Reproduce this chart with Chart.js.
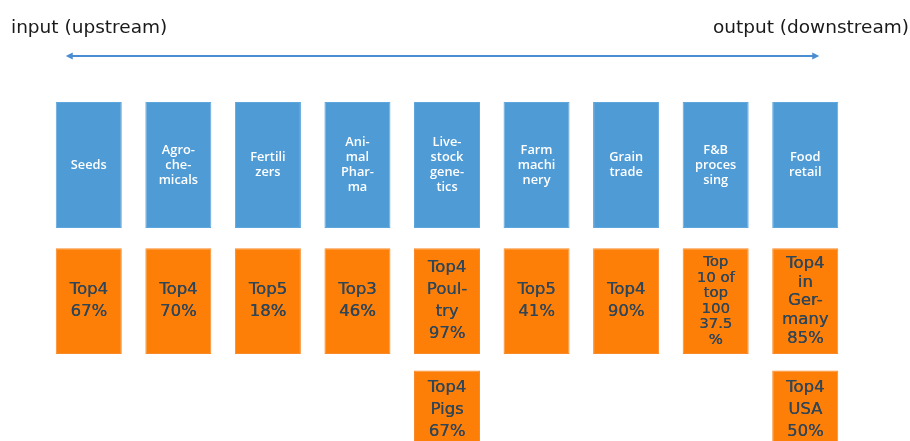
<!DOCTYPE html>
<html>
<head>
<meta charset="utf-8">
<script src="https://cdn.jsdelivr.net/npm/chart.js@4"></script>
<style>
  html, body { margin: 0; padding: 0; background: #ffffff; }
  #wrap { width: 910px; height: 441px; position: relative; }
  canvas { display: block; }
</style>
</head>
<body>
<div id="wrap"><canvas id="c" width="910" height="441"></canvas></div>
<script>
// ---- data ----
const stages = ["Seeds", "Agrochemicals", "Fertilizers", "Animal Pharma", "Livestock genetics",
                "Farm machinery", "Grain trade", "F&B processing", "Food retail"];
const stageLabels = [
  ["Seeds"],
  ["Agro-", "che-", "micals"],
  ["Fertili", "zers"],
  ["Ani-", "mal", "Phar-", "ma"],
  ["Live-", "stock", "gene-", "tics"],
  ["Farm", "machi", "nery"],
  ["Grain", "trade"],
  ["F&B", "proces", "sing"],
  ["Food", "retail"]
];
const concentration = [
  ["Top4", "67%"],
  ["Top4", "70%"],
  ["Top5", "18%"],
  ["Top3", "46%"],
  ["Top4", "Poul-", "try", "97%"],
  ["Top5", "41%"],
  ["Top4", "90%"],
  ["Top", "10 of", "top", "100", "37.5", "%"],
  ["Top4", "in", "Ger-", "many", "85%"]
];
const concentration2 = [
  null, null, null, null,
  ["Top4", "Pigs", "67%"],
  null, null, null,
  ["Top4", "USA", "50%"]
];
const leftLabel = "input (upstream)";
const rightLabel = "output (downstream)";

// row bands on an abstract "row" axis (0 = top of stage row)
const stageBand = [0, 1];
const concBand = [1.16, 2.0];
const conc2Band = [2.13, 3.2];

const BLUE = "#4e9bd6";
const ORANGE = "#fd7f07";
const TEXT_DARK = "#2f4658";

const textPlugin = {
  id: "boxText",
  afterDatasetsDraw(chart) {
    const ctx = chart.ctx;
    const area = chart.chartArea;
    chart.data.datasets.forEach((ds, di) => {
      const meta = chart.getDatasetMeta(di);
      meta.data.forEach((el, i) => {
        const lines = ds.texts[i];
        if (!lines) return;
        const top = Math.min(el.y, el.base);
        const bottom = Math.max(el.y, el.base);
        const h = bottom - top;
        ctx.save();
        ctx.textAlign = "center";
        ctx.textBaseline = "middle";
        let lh, fs;
        if (ds.kind === "stage") {
          lh = 15; fs = 12.8;
          ctx.font = "600 " + fs + "px 'Open Sans', sans-serif";
          ctx.fillStyle = "#ffffff";
        } else {
          lh = Math.min(22, (h - 12) / lines.length);
          fs = Math.min(16.5, lh * 0.95);
          ctx.font = fs + "px 'DejaVu Sans', sans-serif";
          ctx.fillStyle = TEXT_DARK;
        }
        let startY;
        if (bottom > area.bottom + 1) {
          startY = top + 17;
        } else {
          startY = (top + bottom) / 2 - (lines.length - 1) * lh / 2;
        }
        lines.forEach((t, k) => {
          ctx.fillText(t, el.x, startY + k * lh);
          if (ds.kind !== "stage") {
            ctx.fillText(t, el.x + 0.35, startY + k * lh);
          }
        });
        ctx.restore();
      });
    });
  },
  afterDraw(chart) {
    const ctx = chart.ctx;
    const y = chart.scales.y;
    const first = chart.getDatasetMeta(0).data[0];
    const last = chart.getDatasetMeta(0).data[stages.length - 1];
    const x0 = first.x - first.width / 2 + 10;
    const x1 = last.x + last.width / 2 - 19;
    const ay = y.getPixelForValue(-0.365);
    ctx.save();
    ctx.strokeStyle = "#4a8dd2";
    ctx.fillStyle = "#4a8dd2";
    ctx.lineWidth = 2;
    ctx.beginPath();
    ctx.moveTo(x0 + 5, ay);
    ctx.lineTo(x1 - 5, ay);
    ctx.stroke();
    ctx.beginPath();
    ctx.moveTo(x0, ay); ctx.lineTo(x0 + 7, ay - 3.5); ctx.lineTo(x0 + 7, ay + 3.5); ctx.closePath(); ctx.fill();
    ctx.beginPath();
    ctx.moveTo(x1, ay); ctx.lineTo(x1 - 7, ay - 3.5); ctx.lineTo(x1 - 7, ay + 3.5); ctx.closePath(); ctx.fill();
    ctx.font = "18.5px 'DejaVu Sans', sans-serif";
    ctx.fillStyle = "#1a1a1a";
    ctx.textBaseline = "middle";
    const ty = y.getPixelForValue(-0.59);
    ctx.textAlign = "left";
    ctx.fillText(leftLabel, 11, ty);
    ctx.textAlign = "right";
    ctx.fillText(rightLabel, 909, ty);
    ctx.restore();
  }
};

new Chart(document.getElementById("c"), {
  type: "bar",
  data: {
    labels: stages,
    datasets: [
      { kind: "stage", data: stages.map(() => stageBand), texts: stageLabels,
        backgroundColor: BLUE, borderColor: "#5ea6dc", borderWidth: 1, borderSkipped: false },
      { kind: "conc", data: concentration.map(() => concBand), texts: concentration,
        backgroundColor: ORANGE, borderColor: "#f98a2a", borderWidth: 1, borderSkipped: false },
      { kind: "conc", data: concentration2.map(v => v ? conc2Band : null), texts: concentration2,
        backgroundColor: ORANGE, borderColor: "#f98a2a", borderWidth: 1, borderSkipped: false }
    ]
  },
  options: {
    responsive: false,
    animation: false,
    events: [],
    layout: { padding: { left: 44, right: 60, top: 0, bottom: 0 } },
    datasets: { bar: { grouped: false, barPercentage: 0.737, categoryPercentage: 1 } },
    plugins: { legend: { display: false }, tooltip: { enabled: false } },
    scales: {
      x: { type: "category", display: false, offset: true },
      y: { type: "linear", display: false, reverse: true, min: -0.81, max: 2.69 }
    }
  },
  plugins: [textPlugin]
});
</script>
</body>
</html>
